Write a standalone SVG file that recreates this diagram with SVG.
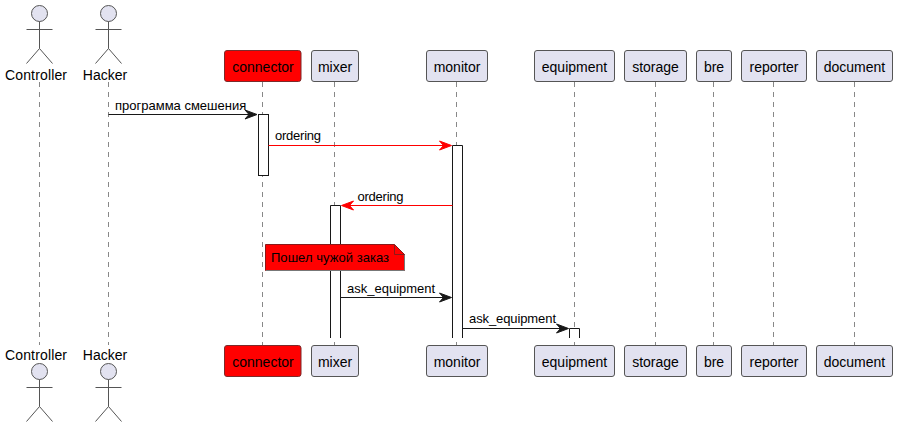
<svg xmlns="http://www.w3.org/2000/svg" width="897" height="427" viewBox="0 0 897 427">
<style>
text{font-family:"Liberation Sans",Arial,sans-serif;fill:#000}
.p{font-size:14px;text-anchor:middle}
.m{font-size:13px}
.a{font-size:14px;text-anchor:middle}
.life{stroke:#888;stroke-width:1;stroke-dasharray:5,5;fill:none}
.box{fill:#E2E2F0;stroke:#555;stroke-width:1}
.red{fill:#FF0000;stroke:#7b2b2b;stroke-width:1}
.actor circle{fill:#E2E2F0;stroke:#555;stroke-width:1}
.actor path{fill:none;stroke:#555;stroke-width:1}
.act{fill:#fff;stroke:#181818;stroke-width:1}
.bk{stroke:#181818;stroke-width:1;fill:none}
.rl{stroke:#FF0000;stroke-width:1;fill:none}
.hb{fill:#181818;stroke:#181818}
.hr{fill:#FF0000;stroke:#FF0000}
</style>
<g id="lifelines">
<path class="life" d="M39.5 82V345M108.5 82V345M262.5 82V345M334.5 82V345M456.5 82V345M574.5 82V345M655.5 82V345M713.5 82V345M773.5 82V345M854.5 82V345"/>
</g>
<g id="Controller" class="actor">
<circle cx="39.5" cy="13.5" r="8"/><path d="M39.5 21.5V48.5M26.5 29.5H52.5M39.5 48.5L26.5 63.5M39.5 48.5L52.5 63.5"/>
<text class="a" x="36" y="80" textLength="62">Controller</text>
<text class="a" x="36" y="360" textLength="62">Controller</text>
<circle cx="39.5" cy="371.5" r="8"/><path d="M39.5 379.5V406.5M26.5 387.5H52.5M39.5 406.5L26.5 421.5M39.5 406.5L52.5 421.5"/>
</g>
<g id="Hacker" class="actor">
<circle cx="108.5" cy="13.5" r="8"/><path d="M108.5 21.5V48.5M95.5 29.5H121.5M108.5 48.5L95.5 63.5M108.5 48.5L121.5 63.5"/>
<text class="a" x="105" y="80">Hacker</text>
<text class="a" x="105" y="360">Hacker</text>
<circle cx="108.5" cy="371.5" r="8"/><path d="M108.5 379.5V406.5M95.5 387.5H121.5M108.5 406.5L95.5 421.5M108.5 406.5L121.5 421.5"/>
</g>
<g id="connector">
<rect class="red" x="224.5" y="50.5" width="76.500" height="31" rx="2.500"/><text class="p" x="263" y="72">connector</text>
<rect class="red" x="224.5" y="345.5" width="76.500" height="31" rx="2.500"/><text class="p" x="263" y="367">connector</text>
</g>
<g id="mixer">
<rect class="box" x="311.5" y="50.5" width="47" height="31" rx="2.500"/><text class="p" x="335" y="72">mixer</text>
<rect class="box" x="311.5" y="345.5" width="47" height="31" rx="2.500"/><text class="p" x="335" y="367">mixer</text>
</g>
<g id="monitor">
<rect class="box" x="426.5" y="50.5" width="61" height="31" rx="2.500"/><text class="p" x="457" y="72">monitor</text>
<rect class="box" x="426.5" y="345.5" width="61" height="31" rx="2.500"/><text class="p" x="457" y="367">monitor</text>
</g>
<g id="equipment">
<rect class="box" x="534.5" y="50.5" width="80" height="31" rx="2.500"/><text class="p" x="574.5" y="72">equipment</text>
<rect class="box" x="534.5" y="345.5" width="80" height="31" rx="2.500"/><text class="p" x="574.5" y="367">equipment</text>
</g>
<g id="storage">
<rect class="box" x="624.5" y="50.5" width="62" height="31" rx="2.500"/><text class="p" x="655.500" y="72">storage</text>
<rect class="box" x="624.5" y="345.5" width="62" height="31" rx="2.500"/><text class="p" x="655.500" y="367">storage</text>
</g>
<g id="bre">
<rect class="box" x="696.5" y="50.5" width="35" height="31" rx="2.500"/><text class="p" x="714" y="72">bre</text>
<rect class="box" x="696.5" y="345.5" width="35" height="31" rx="2.500"/><text class="p" x="714" y="367">bre</text>
</g>
<g id="reporter">
<rect class="box" x="741.5" y="50.5" width="65" height="31" rx="2.500"/><text class="p" x="774" y="72">reporter</text>
<rect class="box" x="741.5" y="345.5" width="65" height="31" rx="2.500"/><text class="p" x="774" y="367">reporter</text>
</g>
<g id="document">
<rect class="box" x="816.5" y="50.5" width="76" height="31" rx="2.500"/><text class="p" x="854.500" y="72">document</text>
<rect class="box" x="816.5" y="345.5" width="76" height="31" rx="2.500"/><text class="p" x="854.500" y="367">document</text>
</g>
<g id="activations">
<rect class="act" x="258.5" y="114.5" width="10" height="61"/>
<path d="M330.500 205.500H340.500V338H330.500Z" fill="#fff"/><path class="bk" d="M330.500 338V205.500H340.500V338"/>
<path d="M452.500 145.500H462.500V338H452.500Z" fill="#fff"/><path class="bk" d="M452.500 338V145.500H462.500V338"/>
<path d="M569.500 328.500H579.500V338H569.500Z" fill="#fff"/><path class="bk" d="M569.500 338V328.500H579.500V338"/>
</g>
<g id="note">
<path d="M265.500 244.500H394.500L404.500 254.500V270.500H265.500Z" fill="#FF0000" stroke="#8a1a1a"/>
<path d="M394.500 244.500V254.500H404.500" fill="none" stroke="#8a1a1a"/>
<path d="M266 270.500H404.500V255" fill="none" stroke="#777"/>
<text class="m" x="271" y="262" textLength="118">Пошел чужой заказ</text>
</g>
<g id="connectors">
<path class="bk" d="M108.500 114.500H252"/><path class="hb" d="M257 114.500L245 110L249 114.500L245 119Z"/>
<text class="m" x="115" y="110">программа смешения</text>
<path class="rl" d="M268.500 145.500H447"/><path class="hr" d="M451.500 145.500L439.500 141L443.500 145.500L439.500 150Z"/>
<text class="m" x="275" y="140" textLength="46">ordering</text>
<path class="rl" d="M452.500 205.500H346"/><path class="hr" d="M341.500 205.500L353.500 201L349.500 205.500L353.500 210Z"/>
<text class="m" x="357.500" y="201" textLength="46">ordering</text>
<path class="bk" d="M340.500 297.500H447"/><path class="hb" d="M451.500 297.500L439.500 293L443.500 297.500L439.500 302Z"/>
<text class="m" x="347" y="293">ask_equipment</text>
<path class="bk" d="M462.500 328.500H564"/><path class="hb" d="M568.500 328.500L556.500 324L560.500 328.500L556.500 333Z"/>
<text class="m" x="469" y="323" textLength="87">ask_equipment</text>
</g>
</svg>
